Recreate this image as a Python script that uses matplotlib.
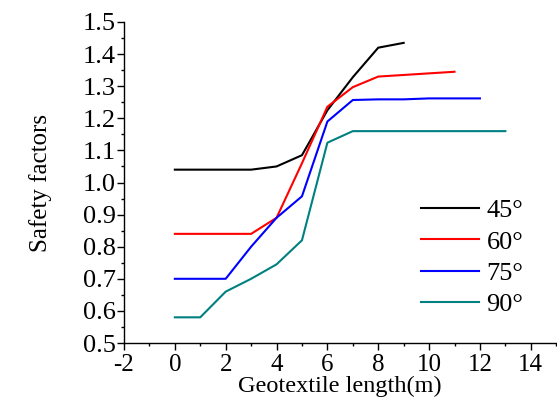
import matplotlib.pyplot as plt
from matplotlib.ticker import MultipleLocator

# Safety factor vs geotextile length, for each slope angle
x_45 = [0, 1, 2, 3, 4, 5, 6, 7, 8, 9]
sf_45 = [1.04, 1.04, 1.04, 1.04, 1.05, 1.085, 1.225, 1.328, 1.42, 1.435]

x_60 = [0, 1, 2, 3, 4, 5, 6, 7, 8, 9, 10, 11]
sf_60 = [0.84, 0.84, 0.84, 0.84, 0.89, 1.06, 1.236, 1.297, 1.33, 1.335, 1.34, 1.345]

x_75 = [0, 1, 2, 3, 4, 5, 6, 7, 8, 9, 10, 11, 12]
sf_75 = [0.70, 0.70, 0.70, 0.80, 0.89, 0.957, 1.19, 1.257, 1.259, 1.259, 1.262, 1.262, 1.262]

x_90 = [0, 1, 2, 3, 4, 5, 6, 7, 8, 9, 10, 11, 12, 13]
sf_90 = [0.58, 0.58, 0.66, 0.70, 0.745, 0.82, 1.124, 1.16, 1.16, 1.16, 1.16, 1.16, 1.16, 1.16]

labels = ['45°', '60°', '75°', '90°']
colors = ['black', 'red', 'blue', '#008080']

plt.rcParams['font.family'] = ['Liberation Serif', 'DejaVu Serif']

fig = plt.figure(figsize=(5.57, 4.0), dpi=100)
ax = fig.add_axes([0.2226, 0.1425, 0.776, 0.8025])

series = [(x_45, sf_45), (x_60, sf_60), (x_75, sf_75), (x_90, sf_90)]
for (xs, ys), lab, c in zip(series, labels, colors):
    ax.plot(xs, ys, color=c, lw=1.5, label=lab)

ax.set_xlim(-2, 15)
ax.set_ylim(0.5, 1.5)
ax.xaxis.set_major_locator(MultipleLocator(2))
ax.xaxis.set_minor_locator(MultipleLocator(1))
ax.yaxis.set_major_locator(MultipleLocator(0.1))
ax.yaxis.set_minor_locator(MultipleLocator(0.05))
ax.yaxis.set_major_formatter(plt.FuncFormatter(lambda v, p: f'{v:.1f}'))
ax.xaxis.set_major_formatter(plt.FuncFormatter(lambda v, p: f'{v:.0f}'))

for s in ['top', 'right']:
    ax.spines[s].set_visible(False)
for s in ['left', 'bottom']:
    ax.spines[s].set_linewidth(1.0)

ax.tick_params(which='major', direction='out', length=5, width=1.0)
ax.tick_params(which='minor', direction='out', length=2.5, width=1.0)
ax.tick_params(axis='x', labelsize=18, pad=3)
ax.tick_params(axis='y', labelsize=19, pad=1)

ax.set_xlabel('Geotextile length(m)', fontsize=17.5, labelpad=0)
ax.set_ylabel('Safety factors', fontsize=18, labelpad=22)

ax.legend(loc='center', bbox_to_anchor=(0.805, 0.266), frameon=False, fontsize=19,
          handlelength=2.2, handletextpad=0.3, labelspacing=0.3)

fig.savefig('out.png', dpi=100)
